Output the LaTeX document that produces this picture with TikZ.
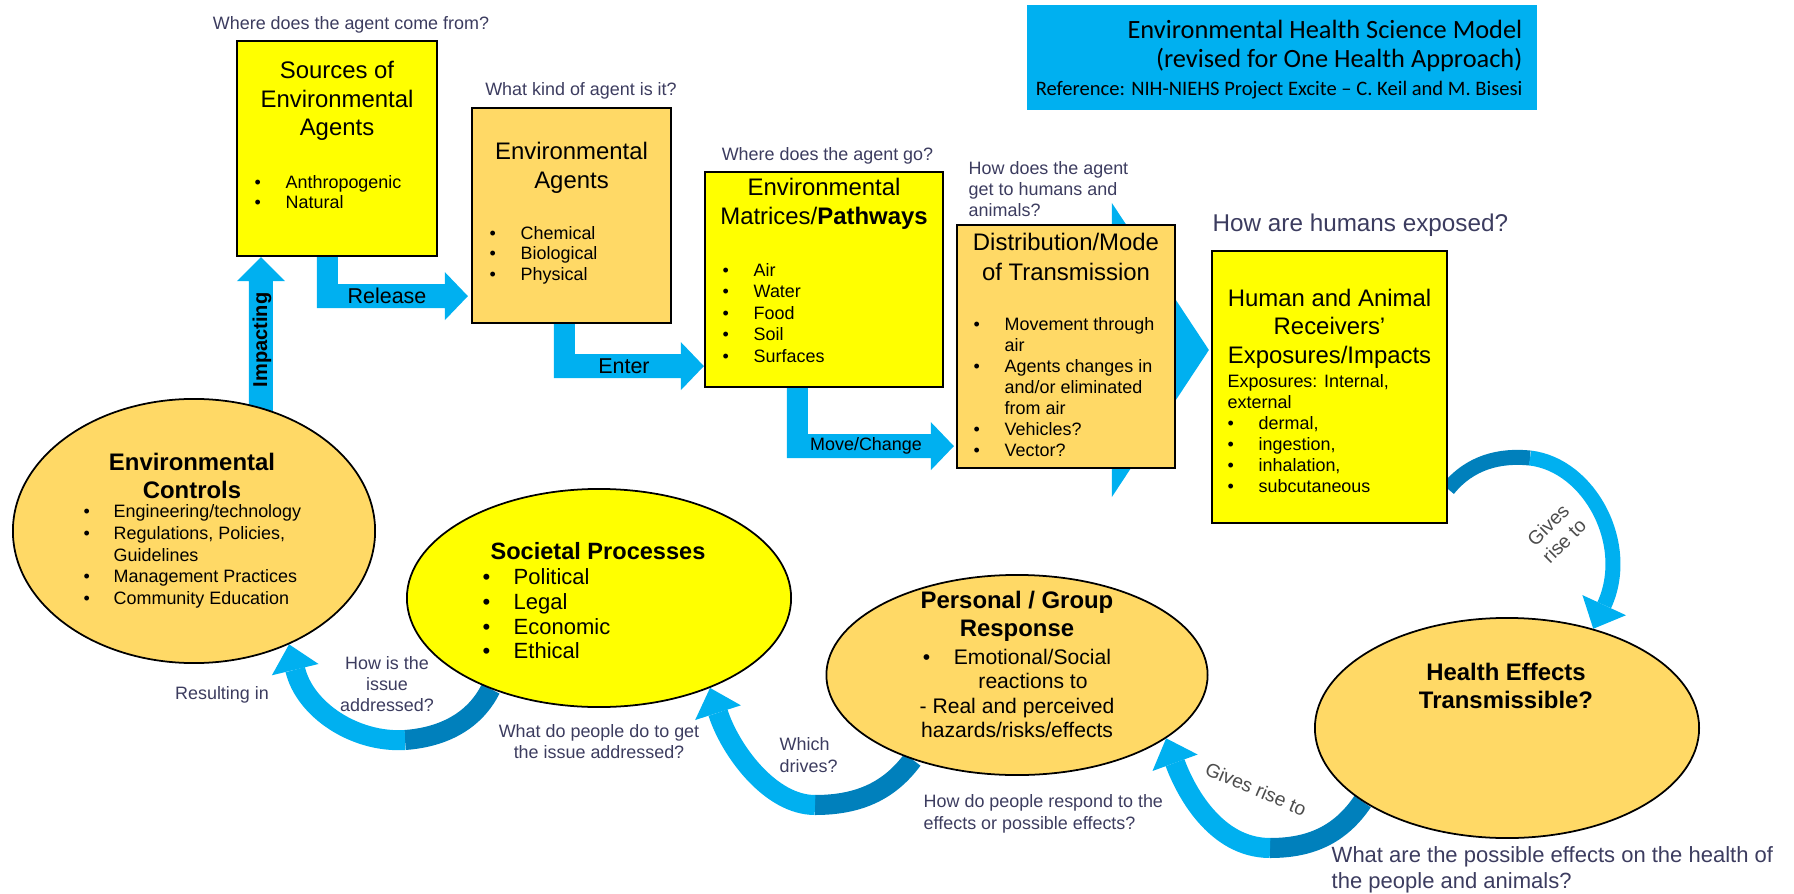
\documentclass[tikz,border=0pt]{standalone}
\usepackage{fontspec}
\setmainfont{Liberation Sans}
\newfontfamily\titlefont{Carlito}
\usepackage{tikz}
\usetikzlibrary{shapes.geometric}
\usetikzlibrary{arrows.meta}
\usetikzlibrary{calc}
\usetikzlibrary{backgrounds}

\definecolor{boxyellow}{RGB}{255,255,0}
\definecolor{boxorange}{RGB}{255,217,102}
\definecolor{arrowblue}{RGB}{0,176,240}
\definecolor{arrowdark}{RGB}{0,128,188}
\definecolor{qtext}{RGB}{60,60,95}

\newcommand{\bitem}[2][0.31cm]{\makebox[#1][l]{\textbullet}#2}
\newcommand{\elbowarrow}[2]{%
  \fill[arrowblue] (#1) -- ++(21,0) |- ($(#2)+(-23,-12)$) -- ++(0,-12) -- (#2)
    -- ++(-23,24) -- ++(0,-12) -| (#1) -- cycle;
}

\tikzset{
  rbox/.style={rectangle, draw=black, line width=0.6pt, inner sep=0pt},
  oval/.style={ellipse, draw=black, line width=0.5pt, inner sep=0pt},
  heading/.style={font=\fontsize{6.8}{8.1}\selectfont, align=center, inner sep=0pt},
  oheading/.style={font=\bfseries\fontsize{6.8}{8}\selectfont, align=center, inner sep=0pt},
  bullets/.style={font=\fontsize{5.1}{6}\selectfont, align=left, anchor=west, inner sep=0pt},
  question/.style={font=\fontsize{5.1}{6}\selectfont, text=qtext, inner sep=0pt},
  arrlabel/.style={font=\fontsize{6.1}{7}\selectfont, inner sep=0pt},
  bandlight/.style={draw=arrowblue, line width=0.2cm},
  banddark/.style={draw=arrowdark, line width=0.2cm},
  bandtip/.style={-{Triangle[width=0.48cm, length=0.26cm, line width=0pt]}},
}

\begin{document}
\begin{tikzpicture}[x=0.01cm, y=-0.01cm]
  \useasboundingbox (0,0) rectangle (1794,894);

  % Boxes along the top
  \node[rbox, fill=boxyellow, minimum width=2.00cm, minimum height=2.15cm] (src) at (337,148.5) {};
  \node[rbox, fill=boxorange, minimum width=1.99cm, minimum height=2.15cm] (agt) at (571.5,215.5) {};
  \node[rbox, fill=boxyellow, minimum width=2.38cm, minimum height=2.15cm] (mat) at (824,279.5) {};
  \node[rbox, fill=boxorange, minimum width=2.18cm, minimum height=2.43cm] (dist) at (1066,346.5) {};
  \node[rbox, fill=boxyellow, minimum width=2.35cm, minimum height=2.72cm] (hum) at (1329.5,387) {};

  % Title
  \node[fill=arrowblue, minimum width=5.10cm, minimum height=1.05cm, inner sep=0pt] (ttl) at (1282,57.5) {};
  \node[anchor=east, align=right, inner sep=0pt, font=\titlefont\fontsize{7.5}{8.1}\selectfont] (ttltxt) at (1523,60)
    {Environmental Health Science Model\\(revised for One Health Approach)\\
     \fontsize{5.85}{7.6}\selectfont Reference: NIH-NIEHS Project Excite – C. Keil and M. Bisesi};

  % Ovals along the bottom
  \node[oval, fill=boxorange, minimum width=3.62cm, minimum height=2.64cm] (ctl) at (194,531) {};
  \node[oval, fill=boxyellow, minimum width=3.84cm, minimum height=2.18cm] (soc) at (599,598) {};
  \node[oval, fill=boxorange, minimum width=3.81cm, minimum height=2.00cm] (per) at (1017,675) {};
  \node[oval, fill=boxorange, minimum width=3.84cm, minimum height=2.20cm] (hea) at (1507,728) {};

  % Box texts
  \node[heading] (srch) at (337,101) {Sources of\\Environmental\\Agents};
  \node[bullets, font=\fontsize{5.1}{5.7}\selectfont] (srcl) at (254,192) {\bitem{Anthropogenic}\\\bitem{Natural}};
  \node[heading] (agth) at (571.5,168) {Environmental\\Agents};
  \node[bullets, font=\fontsize{5.1}{5.85}\selectfont] (agtl) at (489,255) {\bitem{Chemical}\\\bitem{Biological}\\\bitem{Physical}};
  \node[heading] (math) at (824,204) {Environmental\\Matrices/\textbf{Pathways}};
  \node[bullets, font=\fontsize{5.1}{6.1}\selectfont] (matl) at (722,313) {\bitem{Air}\\\bitem{Water}\\\bitem{Food}\\\bitem{Soil}\\\bitem{Surfaces}};
  \node[heading, font=\fontsize{6.8}{8.4}\selectfont] (disth) at (1066,257) {Distribution/Mode\\of Transmission};
  \node[bullets] (distl) at (973,387) {\bitem{Movement through}\\\hspace*{0.31cm}air\\
    \bitem{Agents changes in}\\\hspace*{0.31cm}and/or eliminated\\\hspace*{0.31cm}from air\\\bitem{Vehicles?}\\\bitem{Vector?}};
  \node[heading] (humh) at (1329.5,328.5) {Human and Animal\\Receivers'\\Exposures/Impacts};
  \node[bullets] (huml) at (1227,433.5) {Exposures: Internal,\\external\\\bitem{dermal,}\\\bitem{ingestion,}\\\bitem{inhalation,}\\\bitem{subcutaneous}};

  % Oval texts
  \node[oheading] (ctlh) at (192,476) {Environmental\\Controls};
  \node[bullets, font=\fontsize{5.1}{6.2}\selectfont] (ctll) at (83,556.5) {\bitem[0.30cm]{Engineering/technology}\\
    \bitem[0.30cm]{Regulations, Policies,}\\\hspace*{0.30cm}Guidelines\\\bitem[0.30cm]{Management Practices}\\\bitem[0.30cm]{Community Education}};
  \node[oheading, font=\bfseries\fontsize{6.7}{8}\selectfont] (soch) at (598,551) {Societal Processes};
  \node[bullets, font=\fontsize{6.26}{7.0}\selectfont] (socl) at (482,614) {\bitem{Political}\\\bitem{Legal}\\
    \bitem{Economic}\\\bitem{Ethical}};
  \node[oheading] (perh) at (1017,616) {Personal / Group\\Response};
  \node[font=\fontsize{6}{6.9}\selectfont, align=center, inner sep=0pt] (perl) at (1017,693.5)
    {\bitem{Emotional/Social}\\\hspace*{0.32cm}reactions to\\- Real and perceived\\hazards/risks/effects};
  \node[oheading] (heah) at (1506,686) {Health Effects\\Transmissible?};

  % Questions
  \node[question] (qsrc) at (351,25) {Where does the agent come from?};
  \node[question] (qagt) at (581,91) {What kind of agent is it?};
  \node[question] (qmat) at (827.5,156) {Where does the agent go?};
  \node[question, anchor=west, align=left] (qdist) at (968,189) {How does the agent\\get to humans and\\animals?};
  \node[question, anchor=west, font=\fontsize{6.9}{8}\selectfont] (qhum) at (1212,225) {How are humans exposed?};
  \node[question] (qctl) at (222,695) {Resulting in};
  \node[question, align=center] (qsoc) at (387,684) {How is the\\issue\\addressed?};
  \node[question, align=center] (qsoc2) at (599,742) {What do people do to get\\the issue addressed?};
  \node[question, anchor=west, align=left, font=\fontsize{5.1}{6.1}\selectfont] (qper) at (779,755) {Which\\drives?};
  \node[question, anchor=west, align=left, font=\fontsize{5.1}{6.2}\selectfont] (qper2) at (923,814) {How do people respond to the\\effects or possible effects?};
  \node[question, anchor=west, align=left, font=\fontsize{6.26}{7.4}\selectfont] (qhea) at (1331,870) {What are the possible effects on the health of\\the people and animals?};

  % Arrow labels
  \node[arrlabel, font=\bfseries\fontsize{5.7}{7}\selectfont, rotate=90] (limp) at (262,340) {Impacting};
  \node[arrlabel] (lrel) at (387,296) {Release};
  \node[arrlabel] (lent) at (624,366) {Enter};
  \node[arrlabel, font=\fontsize{5.1}{6}\selectfont] (lmov) at (866,446) {Move/Change};
  \node[arrlabel, font=\fontsize{5.5}{6.4}\selectfont, text=black!70, rotate=45, align=center] (lris2) at (1556,533) {Gives\\rise to};
  \node[arrlabel, font=\fontsize{5.5}{6.2}\selectfont, text=black!70, rotate=-23] (lris1) at (1256,789) {Gives rise to};

  \begin{scope}[on background layer]
    % Impacting arrow
    \coordinate (impT) at ($(src.south west)+(25,0)$);
    \fill[arrowblue] (impT) -- ++(24,24) -- ++(-12,0) -- ++(0,146) -- ++(-24,0) -- ++(0,-146) -- ++(-12,0) -- cycle;

    % Elbow arrows between the boxes
    \coordinate (relA) at ($(src.south west)+(81,0)$);
    \coordinate (relB) at ($(agt.south west)+(-3,-28)$);
    \coordinate (entA) at ($(agt.south west)+(83,0)$);
    \coordinate (entB) at ($(mat.south west)+(0,-22)$);
    \coordinate (movA) at ($(mat.south west)+(83,0)$);
    \coordinate (movB) at ($(dist.south west)+(-2,-23)$);
    \foreach \a/\b in {relA/relB, entA/entB, movA/movB} {
      \elbowarrow{\a}{\b}
    }

    % Big arrow into the receivers box
    \coordinate (chvT) at ($(hum.west)+(-2,-37)$);
    \fill[arrowblue] (chvT) -- ++(-97,-147) -- ++(0,77) -- ++(-80,0) -- ++(0,140) -- ++(80,0) -- ++(0,77) -- cycle;

    % Curved arrows
    \draw[banddark] (soc.220) .. controls (475,720) and (445,737) .. (405,740) coordinate (resM);
    \draw[bandlight, bandtip] (resM) .. controls (355,743) and (305,710) .. (ctl.310);
    \draw[banddark] (per.219) .. controls (890,790) and (860,805) .. (815,805) coordinate (drvM);
    \draw[bandlight, bandtip] (drvM) .. controls (770,805) and (730,750) .. (soc.321);
    \draw[banddark] (hea.207) .. controls (1340,835) and (1310,848) .. (1270,848) coordinate (ris1M);
    \draw[bandlight, bandtip] (ris1M) .. controls (1215,848) and (1185,790) .. (per.337);
    \coordinate (ris2S) at ($(hum.south east)+(0,-35)$);
    \draw[banddark, line width=0.15cm] (ris2S) .. controls (1470,462) and (1500,455) .. (1530,458) coordinate (ris2M);
    \draw[bandlight, line width=0.15cm, bandtip] (ris2M) .. controls (1590,465) and (1632,545) .. (hea.49);
  \end{scope}
\end{tikzpicture}
\end{document}
